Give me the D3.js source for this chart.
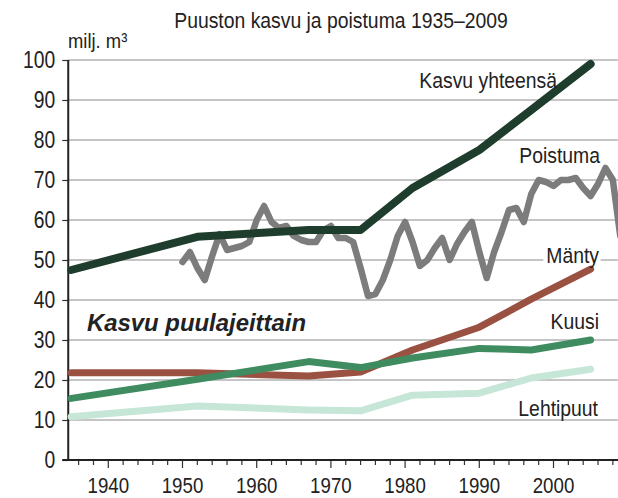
<!DOCTYPE html>
<html>
<head>
<meta charset="utf-8">
<script src="https://cdn.jsdelivr.net/npm/d3@7"></script>
<style>
  body { margin: 0; background: #fff; }
  text { font-family: "Liberation Sans Narrow", "Arial Narrow", "Liberation Sans", sans-serif; fill: #222; }
</style>
</head>
<body>
<svg id="chart" width="618" height="498"></svg>
<script>
const title = 'Puuston kasvu ja poistuma 1935–2009';
const unitLabel = 'milj. m³';

// inventory years for the growth series
const years = [1935, 1952, 1967, 1974, 1981, 1990, 1997, 2005];
const kasvu = [47.5, 55.8, 57.5, 57.5, 68, 77.5, 87.5, 99];
const manty = [21.8, 21.8, 21, 22, 27.5, 33.2, 40.2, 47.7];
const kuusi = [15.4, 20.2, 24.6, 23.1, 25.5, 27.9, 27.5, 30];
const lehtipuut = [10.8, 13.5, 12.5, 12.3, 16.2, 16.7, 20.5, 22.7];

// annual drain 1950-2009
const poistumaYears = d3.range(1950, 2010);
const poistuma = [
  49.5, 52, 48, 45, 51, 56.5, 52.5, 53, 53.5, 54.5,
  60, 63.5, 59.5, 58, 58.5, 56, 55, 54.5, 54.5, 57.5,
  58.5, 55.5, 55.5, 54.5, 48, 41, 41.5, 45, 50, 56,
  59.5, 54.5, 48.5, 50, 53, 55.5, 50, 54, 57, 59.5,
  52, 45.5, 52, 57, 62.5, 63, 59.5, 66.5, 70, 69.5,
  68.5, 70, 70, 70.5, 68, 66, 69, 73, 70, 56
];

const yTicks = d3.range(0, 101, 10);
const xLabels = [1940, 1950, 1960, 1970, 1980, 1990, 2000];

const svg = d3.select('#chart');
const x = d3.scaleLinear().domain([1940, 2000]).range([108.3, 553.5]);
const y = d3.scaleLinear().domain([0, 100]).range([460, 60]);
const left = x(1934.6);
const right = 618;

// no narrow font installed, so squeeze the glyphs instead
function squeeze(sel, f) {
  sel.each(function () {
    const w = this.getComputedTextLength();
    d3.select(this).attr('textLength', w * f).attr('lengthAdjust', 'spacingAndGlyphs');
  });
}

// gridlines
svg.append('g')
  .selectAll('line')
  .data(yTicks.filter(d => d > 0))
  .join('line')
  .attr('x1', left)
  .attr('x2', right)
  .attr('y1', d => y(d))
  .attr('y2', d => y(d))
  .attr('stroke', '#8c8c8c')
  .attr('stroke-width', 1.2);

// y axis
const yAxis = svg.append('g').attr('transform', `translate(${left},0)`)
  .call(d3.axisLeft(y).tickValues(yTicks).tickSize(6).tickPadding(7));
yAxis.select('.domain').remove();
yAxis.selectAll('line').attr('stroke', '#333').attr('stroke-width', 1.2);
yAxis.selectAll('text').attr('font-size', 23.5).attr('fill', '#222')
  .style('font-family', '"Liberation Sans Narrow", "Arial Narrow", "Liberation Sans", sans-serif');
squeeze(yAxis.selectAll('text'), 0.82);

svg.append('line')
  .attr('x1', left).attr('x2', left)
  .attr('y1', y(100)).attr('y2', y(0))
  .attr('stroke', '#222').attr('stroke-width', 2);

// x axis
const minor = d3.range(1936, 2009, 2);
svg.append('g')
  .selectAll('line')
  .data(minor)
  .join('line')
  .attr('x1', d => x(d))
  .attr('x2', d => x(d))
  .attr('y1', y(0))
  .attr('y2', d => y(0) + (d % 10 === 0 ? 8 : 5))
  .attr('stroke', '#333')
  .attr('stroke-width', 1.2);

svg.append('line')
  .attr('x1', left - 6).attr('x2', right)
  .attr('y1', y(0)).attr('y2', y(0))
  .attr('stroke', '#222').attr('stroke-width', 2);

const xText = svg.append('g')
  .selectAll('text')
  .data(xLabels)
  .join('text')
  .attr('x', d => x(d))
  .attr('y', 493)
  .attr('text-anchor', 'middle')
  .attr('font-size', 22.5)
  .text(d => d);
squeeze(xText, 0.83);

// series
const line = d3.line().x(d => x(d[0])).y(d => y(d[1]));
const series = [
  { values: manty, color: '#9b5142', width: 7 },
  { values: kuusi, color: '#3f8c60', width: 7 },
  { values: lehtipuut, color: '#c6e6d7', width: 7 }
];

series.forEach(s => {
  svg.append('path')
    .datum(years.map((yr, i) => [yr, s.values[i]]))
    .attr('d', line)
    .attr('fill', 'none')
    .attr('stroke', s.color)
    .attr('stroke-width', s.width)
    .attr('stroke-linejoin', 'round')
    .attr('stroke-linecap', 'round');
});

svg.append('path')
  .datum(poistumaYears.map((yr, i) => [yr, poistuma[i]]))
  .attr('d', line)
  .attr('fill', 'none')
  .attr('stroke', '#7c7c7c')
  .attr('stroke-width', 6.5)
  .attr('stroke-linejoin', 'round')
  .attr('stroke-linecap', 'round');

svg.append('path')
  .datum(years.map((yr, i) => [yr, kasvu[i]]))
  .attr('d', line)
  .attr('fill', 'none')
  .attr('stroke', '#1e3d2c')
  .attr('stroke-width', 8)
  .attr('stroke-linejoin', 'round')
  .attr('stroke-linecap', 'round');

// texts
const titleText = svg.append('text')
  .attr('x', 341).attr('y', 28)
  .attr('text-anchor', 'middle')
  .attr('font-size', 22.5)
  .text(title);
squeeze(titleText, 0.86);

const unitText = svg.append('text')
  .attr('x', 68).attr('y', 48)
  .attr('font-size', 20)
  .text(unitLabel);
squeeze(unitText, 0.92);

const labels = [
  { text: 'Kasvu yhteensä', x: 557, y: 88, bg: false },
  { text: 'Poistuma', x: 600, y: 162.5, bg: false },
  { text: 'Mänty', x: 599, y: 263, bg: true },
  { text: 'Kuusi', x: 599, y: 329, bg: false },
  { text: 'Lehtipuut', x: 598, y: 416, bg: false }
];

labels.forEach(l => {
  const t = svg.append('text')
    .attr('x', l.x).attr('y', l.y)
    .attr('text-anchor', 'end')
    .attr('font-size', 22.5)
    .text(l.text);
  squeeze(t, 0.86);
  if (l.bg) {
    const b = t.node().getBBox();
    svg.insert('rect', () => t.node())
      .attr('x', b.x - 3).attr('y', y(50) - 2)
      .attr('width', b.width + 4).attr('height', 4)
      .attr('fill', '#fff');
  }
});

svg.append('text')
  .attr('x', 87).attr('y', 331)
  .attr('font-size', 23)
  .attr('font-weight', 'bold')
  .attr('font-style', 'italic')
  .attr('textLength', 219)
  .attr('lengthAdjust', 'spacingAndGlyphs')
  .style('font-family', '"Liberation Sans", Arial, sans-serif')
  .text('Kasvu puulajeittain');
</script>
</body>
</html>
